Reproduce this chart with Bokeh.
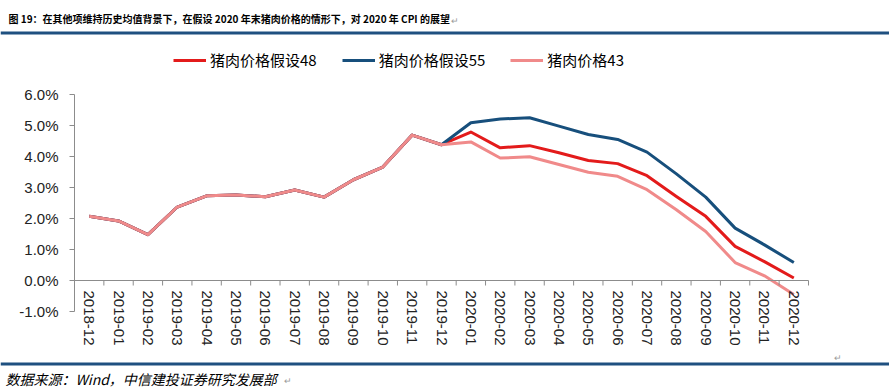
from bokeh.plotting import figure
from bokeh.models import (ColumnDataSource, Range1d, Legend, LegendItem, BoxAnnotation,
                          PrintfTickFormatter, FixedTicker, Label, CustomJSTickFormatter)
from bokeh.embed import file_html
from bokeh.resources import INLINE

# ---------------- data ----------------
months = ["2018-12", "2019-01", "2019-02", "2019-03", "2019-04", "2019-05", "2019-06",
          "2019-07", "2019-08", "2019-09", "2019-10", "2019-11", "2019-12",
          "2020-01", "2020-02", "2020-03", "2020-04", "2020-05", "2020-06",
          "2020-07", "2020-08", "2020-09", "2020-10", "2020-11", "2020-12"]
history = [2.07, 1.92, 1.48, 2.37, 2.73, 2.76, 2.70, 2.92, 2.69, 3.25, 3.66, 4.69, 4.38]
pork48_fc = [4.79, 4.28, 4.35, 4.12, 3.87, 3.77, 3.38, 2.71, 2.07, 1.10, 0.61, 0.08]
pork55_fc = [5.09, 5.21, 5.25, 4.98, 4.71, 4.55, 4.14, 3.44, 2.69, 1.69, 1.15, 0.58]
pork43_fc = [4.47, 3.95, 3.99, 3.74, 3.49, 3.36, 2.93, 2.28, 1.58, 0.58, 0.15, -0.45]
series_names = ["猪肉价格假设48", "猪肉价格假设55", "猪肉价格43"]
y_ticks = [-1, 0, 1, 2, 3, 4, 5, 6]
title_text = "图 19：在其他项维持历史均值背景下，在假设 2020 年末猪肉价格的情形下，对 2020 年 CPI 的展望"
source_text = "数据来源：Wind，中信建投证券研究发展部"
para_mark = "↵"

# ---------------- layout / styles ----------------
W, H = 889, 390
AXIS_X_PX = 74          # y-axis position (px from left of figure)
ZERO_PX = 280           # 0% line (px from top of figure)
PX_PER_CAT = 29.36
PX_PER_PCT = 31.0
RED = "#E31B1B"
BLUE = "#174F7C"
PINK = "#F08A8A"
RULE = "#1F5080"
AXIS = "#8C8C8C"
CJK = "Noto Sans CJK SC"
LATIN = "Liberation Sans"

n = len(months)
x_start = -0.5 - AXIS_X_PX / PX_PER_CAT
x_end = -0.5 + (W - AXIS_X_PX) / PX_PER_CAT
y_start = -(H - ZERO_PX) / PX_PER_PCT
y_end = ZERO_PX / PX_PER_PCT


def xd(px):  # px from left -> data x
    return x_start + px / PX_PER_CAT


def yd(px):  # px from top -> data y
    return (ZERO_PX - px) / PX_PER_PCT


p = figure(width=W, height=H, x_range=Range1d(x_start, x_end), y_range=Range1d(y_start, y_end),
           toolbar_location=None, output_backend="svg", min_border=0,
           outline_line_color=None, background_fill_color="white", border_fill_color="white")
p.grid.visible = False

idx = list(range(n))
src = ColumnDataSource(dict(
    x=idx,
    p48=history + pork48_fc,
    p55=history + pork55_fc,
    p43=history + pork43_fc,
))

r48 = p.line("x", "p48", source=src, line_color=RED, line_width=3, line_join="round")
r55 = p.line("x", "p55", source=src, line_color=BLUE, line_width=3, line_join="round")
r43 = p.line("x", "p43", source=src, line_color=PINK, line_width=3, line_join="round")

# category boundary tick marks on the zero line
bounds = [i - 0.5 for i in range(n + 1)]
tick_len = 5 / PX_PER_PCT
p.segment(x0=bounds, y0=[0] * len(bounds), x1=bounds, y1=[-tick_len] * len(bounds),
          line_color=AXIS, line_width=1)

xa = p.xaxis[0]
xa.fixed_location = 0
xa.bounds = (-0.5, n - 0.5)
xa.ticker = FixedTicker(ticks=idx)
xa.formatter = CustomJSTickFormatter(args=dict(months=months),
                                     code="return months[Math.round(tick)] || '';")
xa.axis_line_color = AXIS
xa.major_tick_line_color = None
xa.major_tick_in = 0
xa.major_tick_out = 0
xa.minor_tick_line_color = None
xa.major_label_orientation = "vertical"
xa.major_label_standoff = 10
xa.major_label_text_font = LATIN
xa.major_label_text_font_size = "15px"
xa.major_label_text_color = "#222222"

ya = p.yaxis[0]
ya.fixed_location = -0.5
ya.bounds = (-1, 6)
ya.ticker = FixedTicker(ticks=y_ticks)
ya.formatter = PrintfTickFormatter(format="%.1f%%")
ya.axis_line_color = AXIS
ya.major_tick_line_color = AXIS
ya.major_tick_in = 0
ya.major_tick_out = 5
ya.minor_tick_line_color = None
ya.major_label_standoff = 11
ya.major_label_text_font = LATIN
ya.major_label_text_font_size = "15px"
ya.major_label_text_color = "#222222"

legend = Legend(items=[LegendItem(label=series_names[0], renderers=[r48]),
                       LegendItem(label=series_names[1], renderers=[r55]),
                       LegendItem(label=series_names[2], renderers=[r43])],
                orientation="horizontal", location=(173, H - 70),
                glyph_width=33, glyph_height=20, label_standoff=4, spacing=25,
                padding=0, margin=0, border_line_color=None, background_fill_alpha=0,
                label_text_font=CJK, label_text_font_size="15px", label_text_color="#000000")
p.add_layout(legend, "center")

# title, rules, source note and paragraph marks
p.add_layout(Label(x=xd(8), y=yd(18), text=title_text, text_font=CJK, text_font_size="10px",
                   text_font_style="bold", text_color="#000000",
                   text_baseline="middle", text_align="left"))
p.add_layout(BoxAnnotation(left=x_start, right=x_end, top=yd(31), bottom=yd(34),
                           fill_color=RULE, fill_alpha=1, line_color=None))
p.add_layout(BoxAnnotation(left=x_start, right=x_end, top=yd(362), bottom=yd(365),
                           fill_color=RULE, fill_alpha=1, line_color=None))
p.add_layout(Label(x=xd(5), y=yd(378), text=source_text, text_font=CJK, text_font_size="14px",
                   text_font_style="italic", text_color="#000000",
                   text_baseline="middle", text_align="left"))
for mx, my in [(450, 20), (833, 357), (283, 380)]:
    p.add_layout(Label(x=xd(mx), y=yd(my), text=para_mark, text_font=CJK,
                       text_font_size="9px", text_color="#9A9A9A",
                       text_baseline="middle", text_align="left"))

open("out.html", "w").write(file_html(p, INLINE))
